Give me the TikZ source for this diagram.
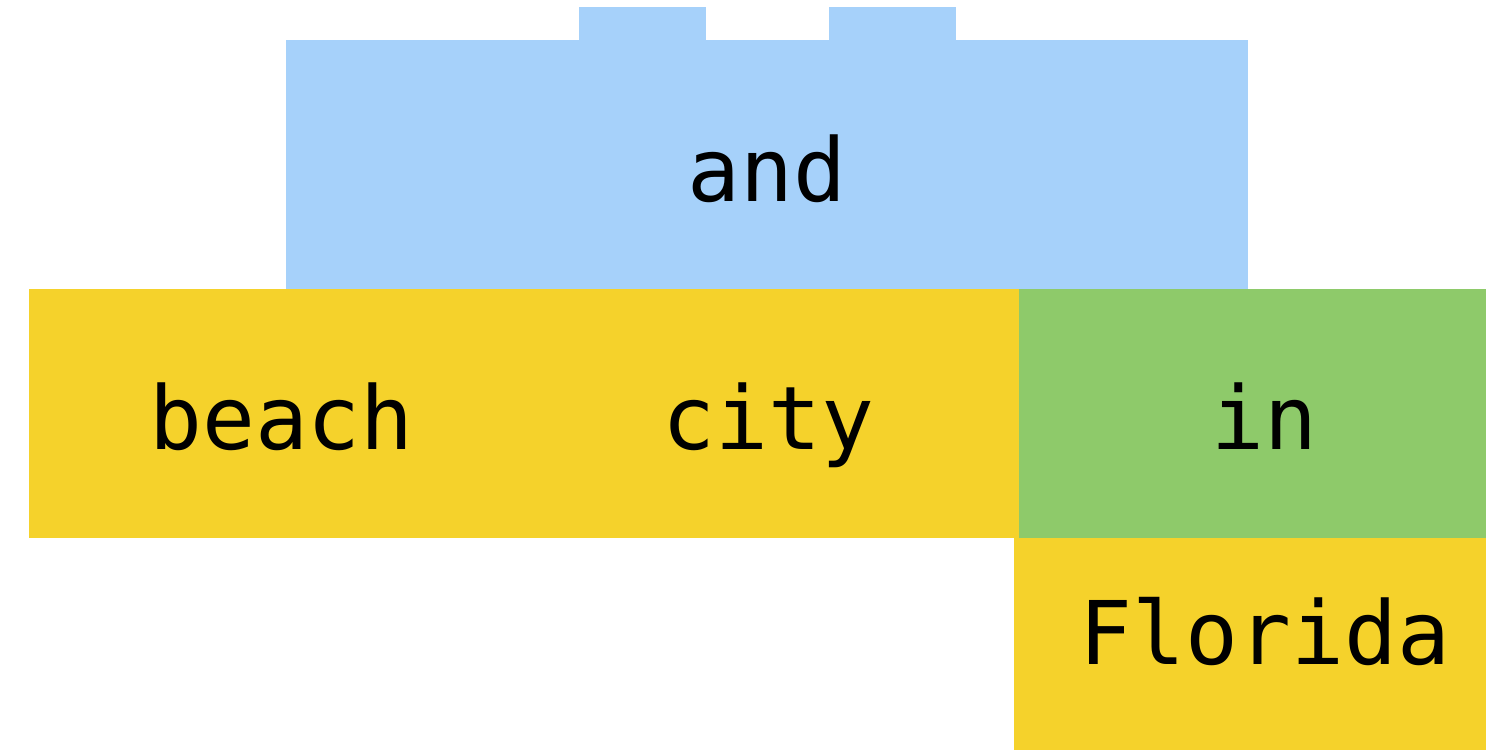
\documentclass[tikz,border=0pt]{standalone}
\usepackage{fontspec}
\usepackage{tikz}
\usetikzlibrary{positioning}
\newfontfamily\blockfont{DejaVu Sans Mono}
\definecolor{andblue}{HTML}{A6D1FA}
\definecolor{nounyellow}{HTML}{F5D22B}
\definecolor{prepgreen}{HTML}{8ECA6A}

\begin{document}
\begin{tikzpicture}[
  x=0.02cm,y=-0.02cm,
  block/.style={fill=#1,draw=none},
  word/.style={anchor=base,inner sep=0pt,font=\blockfont\fontsize{50}{60}\selectfont},
]
\useasboundingbox (0,0) rectangle (1486,750);

% Conjunction block with its two tabs
\fill[block=andblue] (286,40) rectangle (1248,289);
\fill[block=andblue] (579,7) rectangle (706,40);
\fill[block=andblue] (829,7) rectangle (956,40);

% Noun and preposition blocks
\fill[block=nounyellow] (29,289) rectangle (1019,538);
\fill[block=prepgreen] (1019,289) rectangle (1486,538);
\fill[block=nounyellow] (1014,538) rectangle (1486,750);

% Words
\node[word] (and) at (767,201) {and};
\node[word] (beach) at (281.5,449) {beach};
\node[word] (city) at (768.5,449) {city};
\node[word] (in) at (1264.5,449) {in};
\node[word] (florida) at (1265,664) {Florida};

\end{tikzpicture}
\end{document}
